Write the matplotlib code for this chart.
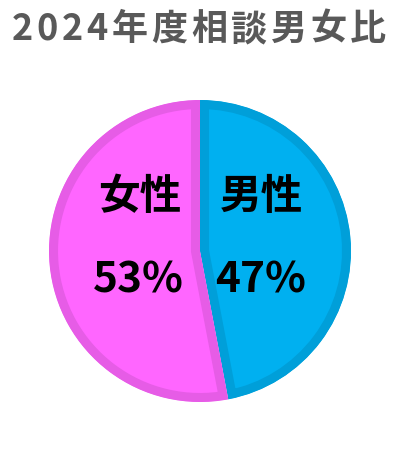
import matplotlib
matplotlib.use("Agg")
import matplotlib.pyplot as plt

# データ
title = "2024年度相談男女比"
categories = ["男性", "女性"]
shares = [47, 53]
fill_colors = ["#00B0F0", "#FF66FF"]
edge_colors = ["#009FD9", "#E65CE6"]

plt.rcParams['font.family'] = ['Noto Sans CJK JP', 'DejaVu Sans']

W, H = 420, 458
fig = plt.figure(figsize=(W / 100, H / 100), dpi=100)

# 円グラフ (中心 200,251 / 半径 151 px)
cx, cy, r = 200, 251, 151
ax = fig.add_axes([(cx - r) / W, (H - cy - r) / H, 2 * r / W, 2 * r / H])
wedges, _ = ax.pie(shares, colors=fill_colors, startangle=90, counterclock=False,
                   radius=1, wedgeprops=dict(linewidth=13))
for w, ec in zip(wedges, edge_colors):
    w.set_edgecolor(ec)
    w.set_clip_on(True)
    w.set_clip_path(w)  # 内側だけに枠線を描く
ax.set_xlim(-1, 1)
ax.set_ylim(-1, 1)
ax.set_aspect('equal')
ax.axis('off')

# ラベル (名前のx, パーセントのx)
label_pos = {"男性": (0.41, 0.40), "女性": (-0.40, -0.41)}
for cat, val in zip(categories, shares):
    x, pct_x = label_pos[cat]
    ax.text(x, 0.278, cat, ha='center', va='baseline', fontsize=30,
            fontweight='bold', color='black')
    ax.text(pct_x, -0.272, f"{val}%", ha='center', va='baseline', fontsize=30.5,
            fontweight='bold', color='black')

# タイトル (字間を少し広げて配置)
renderer = fig.canvas.get_renderer()
chars = [fig.text(0, (H - 40) / H, ch, fontsize=26, fontweight='bold',
                  color='#595959', ha='left', va='baseline') for ch in title]
widths = [t.get_window_extent(renderer).width for t in chars]
left, right = 12, 386
gap = (right - left - sum(widths)) / (len(chars) - 1)
x = left
for t, wd in zip(chars, widths):
    t.set_x(x / W)
    x += wd + gap

fig.savefig("out.png", dpi=100)
